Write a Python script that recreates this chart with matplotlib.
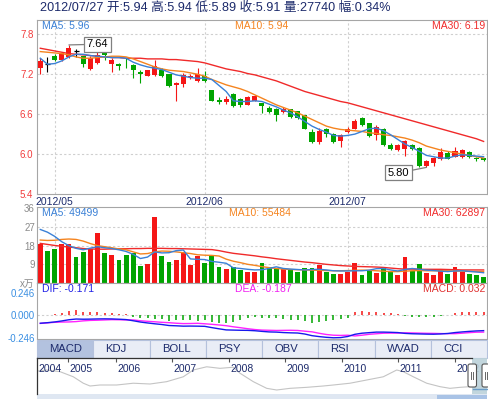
import numpy as np
import matplotlib
matplotlib.use("Agg")
import matplotlib.pyplot as plt
from matplotlib.patches import Rectangle, FancyBboxPatch

FONT = ['Liberation Sans', 'Noto Sans CJK SC', 'DejaVu Sans']
plt.rcParams['font.family'] = FONT

# ---------------- data ----------------
last_date = '2012/07/27'
amplitude_pct = 0.34

month_labels = ['2012/05', '2012/06', '2012/07']
month_index = [2, 23, 43]

opens = [7.29, 7.35, 7.48, 7.41, 7.46, 7.55, 7.47, 7.28, 7.37, 7.59,
         7.36, 7.35, 7.39, 7.34, 7.23, 7.18, 7.19, 7.27, 7.20, 7.04,
         7.05, 7.16, 7.10, 7.18, 6.97, 6.81, 6.78, 6.91, 6.82, 6.74,
         6.80, 6.76, 6.69, 6.68, 6.63, 6.67, 6.64, 6.58, 6.33, 6.18,
         6.37, 6.30, 6.20, 6.33, 6.38, 6.54, 6.46, 6.28, 6.37, 6.14,
         6.06, 6.08, 6.13, 6.09, 5.82, 5.86, 5.93, 6.02, 5.96, 5.96,
         6.03, 5.94, 5.94]
highs = [7.44, 7.46, 7.50, 7.53, 7.64, 7.58, 7.48, 7.48, 7.56, 7.60,
         7.44, 7.37, 7.44, 7.36, 7.26, 7.27, 7.42, 7.29, 7.21, 7.09,
         7.22, 7.21, 7.29, 7.25, 6.97, 6.86, 6.87, 6.92, 6.84, 6.87,
         6.89, 6.77, 6.72, 6.69, 6.71, 6.68, 6.65, 6.59, 6.38, 6.39,
         6.39, 6.32, 6.30, 6.40, 6.52, 6.55, 6.47, 6.43, 6.39, 6.16,
         6.15, 6.21, 6.15, 6.10, 5.91, 5.95, 6.09, 6.05, 6.10, 6.08,
         6.05, 5.95, 5.94]
lows = [7.20, 7.24, 7.40, 7.40, 7.45, 7.46, 7.31, 7.27, 7.36, 7.42,
        7.23, 7.26, 7.30, 7.14, 7.07, 7.17, 7.18, 7.16, 7.01, 6.80,
        7.01, 7.13, 7.09, 7.09, 6.80, 6.75, 6.75, 6.71, 6.71, 6.73,
        6.79, 6.62, 6.61, 6.49, 6.62, 6.54, 6.53, 6.37, 6.17, 6.15,
        6.26, 6.17, 6.11, 6.32, 6.37, 6.42, 6.25, 6.21, 6.12, 6.06,
        6.05, 5.97, 6.06, 5.81, 5.80, 5.82, 5.91, 5.92, 5.95, 5.94,
        5.94, 5.90, 5.89]
closes = [7.40, 7.35, 7.42, 7.52, 7.60, 7.55, 7.35, 7.45, 7.49, 7.49,
          7.42, 7.33, 7.38, 7.26, 7.20, 7.26, 7.32, 7.18, 7.03, 7.07,
          7.19, 7.17, 7.20, 7.10, 6.80, 6.78, 6.83, 6.72, 6.74, 6.86,
          6.88, 6.72, 6.63, 6.58, 6.67, 6.56, 6.54, 6.38, 6.18, 6.34,
          6.30, 6.18, 6.29, 6.38, 6.50, 6.43, 6.27, 6.41, 6.13, 6.07,
          6.14, 6.20, 6.07, 5.82, 5.90, 5.94, 6.03, 5.93, 6.05, 6.06,
          5.95, 5.92, 5.91]

ma5 = [7.44, 7.35, 7.36, 7.40, 7.46, 7.50, 7.50, 7.48, 7.47, 7.46,
       7.45, 7.45, 7.44, 7.38, 7.34, 7.31, 7.29, 7.27, 7.23, 7.19,
       7.17, 7.15, 7.14, 7.14, 7.12, 7.03, 6.94, 6.80, 6.79, 6.79,
       6.80, 6.79, 6.75, 6.71, 6.66, 6.62, 6.56, 6.49, 6.42, 6.37,
       6.33, 6.28, 6.27, 6.28, 6.30, 6.34, 6.38, 6.39, 6.35, 6.29,
       6.22, 6.15, 6.10, 6.04, 5.98, 5.96, 5.94, 5.94, 5.97, 5.99,
       5.98, 5.97, 5.96]
ma10 = [7.54, 7.53, 7.52, 7.51, 7.49, 7.46, 7.44, 7.44, 7.45, 7.46,
        7.47, 7.47, 7.46, 7.43, 7.39, 7.35, 7.31, 7.28, 7.26, 7.25,
        7.24, 7.22, 7.20, 7.17, 7.12, 7.08, 7.04, 7.01, 6.98, 6.94,
        6.89, 6.84, 6.79, 6.74, 6.70, 6.66, 6.62, 6.57, 6.52, 6.47,
        6.42, 6.39, 6.37, 6.36, 6.35, 6.34, 6.32, 6.31, 6.29, 6.28,
        6.26, 6.24, 6.21, 6.17, 6.12, 6.09, 6.06, 6.04, 6.02, 6.00,
        5.98, 5.96, 5.94]
ma30 = [7.59, 7.57, 7.55, 7.53, 7.51, 7.50, 7.49, 7.48, 7.47, 7.46,
        7.45, 7.45, 7.44, 7.44, 7.44, 7.43, 7.43, 7.43, 7.42, 7.42,
        7.41, 7.40, 7.39, 7.37, 7.34, 7.31, 7.28, 7.26, 7.24, 7.21,
        7.19, 7.16, 7.13, 7.10, 7.06, 7.02, 6.98, 6.94, 6.91, 6.88,
        6.85, 6.82, 6.79, 6.77, 6.74, 6.71, 6.68, 6.65, 6.62, 6.59,
        6.56, 6.53, 6.50, 6.47, 6.44, 6.41, 6.38, 6.35, 6.32, 6.29,
        6.26, 6.23, 6.19]

# volume, in units of 10,000 (x万)
volume = [18.75, 15.5, 16.3, 18.75, 18.75, 12.65, 14.9, 16.3, 24.0, 14.4,
          13.5, 11.05, 13.5, 14.4, 8.2, 9.1, 31.7, 13.0, 10.1, 11.05,
          14.9, 8.65, 13.1, 9.5, 13.1, 7.6, 6.7, 7.6, 6.25, 5.2,
          5.3, 9.6, 7.6, 6.8, 6.8, 6.8, 5.3, 7.4, 7.0, 8.65,
          5.3, 4.3, 4.3, 5.4, 9.8, 3.85, 5.75, 4.95, 7.4, 5.4,
          3.85, 12.5, 5.9, 9.1, 4.95, 3.85, 6.6, 4.3, 7.5, 5.4,
          4.3, 3.85, 2.774]
vol_ma5 = [25.8, 24.5, 22.5, 19.9, 18.0, 16.7, 16.0, 16.8, 17.5, 17.0,
           16.6, 16.0, 15.2, 13.8, 11.8, 12.5, 15.0, 14.5, 14.6, 15.6,
           15.9, 11.6, 11.4, 11.3, 10.4, 10.0, 9.5, 7.3, 7.0, 6.6,
           6.3, 6.4, 7.0, 7.8, 7.0, 6.7, 6.5, 6.3, 6.5, 6.6,
           6.3, 5.9, 5.8, 5.8, 5.9, 5.9, 6.2, 6.9, 7.0, 6.3,
           5.8, 6.5, 7.0, 6.6, 6.2, 6.0, 5.7, 5.5, 5.8, 5.9,
           5.6, 5.3, 4.9499]
vol_ma10 = [20.7, 20.5, 20.6, 21.0, 21.2, 21.0, 20.2, 19.0, 18.0, 17.5,
            17.0, 16.4, 16.0, 15.0, 14.0, 14.2, 15.0, 15.4, 15.3, 15.0,
            14.6, 14.2, 13.6, 13.4, 13.3, 13.0, 11.5, 10.5, 9.8, 9.0,
            8.5, 7.9, 7.4, 7.0, 6.7, 6.5, 6.4, 6.3, 6.2, 6.1,
            6.0, 5.9, 5.9, 6.0, 6.1, 6.2, 6.1, 5.9, 5.7, 5.5,
            5.5, 5.7, 5.9, 6.0, 5.9, 5.9, 5.9, 5.9, 5.8, 5.7,
            5.6, 5.5, 5.5484]
vol_ma30 = [19.1, 18.6, 18.1, 17.7, 17.3, 17.0, 16.6, 16.4, 16.3, 16.3,
            16.4, 16.5, 16.5, 16.6, 16.6, 16.7, 16.7, 16.7, 16.6, 16.6,
            16.5, 16.4, 16.3, 16.2, 16.1, 15.6, 14.9, 14.3, 13.9, 13.5,
            13.1, 12.6, 12.2, 11.7, 11.3, 10.9, 10.5, 10.1, 9.8, 9.4,
            9.0, 8.7, 8.4, 8.2, 8.0, 7.9, 7.8, 7.7, 7.5, 7.2,
            6.9, 6.7, 6.7, 6.6, 6.6, 6.6, 6.6, 6.5, 6.4, 6.3,
            6.3, 6.3, 6.2897]

dif = [-0.090, -0.084, -0.076, -0.065, -0.052, -0.044, -0.046, -0.045, -0.043, -0.042,
       -0.043, -0.046, -0.050, -0.063, -0.077, -0.087, -0.096, -0.104, -0.115, -0.118,
       -0.122, -0.121, -0.122, -0.124, -0.138, -0.151, -0.163, -0.165, -0.167, -0.168,
       -0.172, -0.179, -0.185, -0.187, -0.192, -0.195, -0.197, -0.208, -0.226, -0.236,
       -0.244, -0.249, -0.247, -0.235, -0.211, -0.199, -0.193, -0.187, -0.187, -0.189,
       -0.192, -0.201, -0.205, -0.207, -0.209, -0.210, -0.207, -0.202, -0.192, -0.185,
       -0.179, -0.174, -0.171]
dea = [-0.092, -0.086, -0.080, -0.077, -0.076, -0.072, -0.064, -0.059, -0.057, -0.054,
       -0.051, -0.052, -0.054, -0.054, -0.063, -0.069, -0.074, -0.080, -0.084, -0.090,
       -0.094, -0.093, -0.091, -0.096, -0.102, -0.109, -0.117, -0.129, -0.139, -0.150,
       -0.159, -0.165, -0.167, -0.169, -0.168, -0.167, -0.169, -0.177, -0.184, -0.200,
       -0.213, -0.221, -0.223, -0.221, -0.229, -0.221, -0.211, -0.205, -0.199, -0.198,
       -0.198, -0.195, -0.196, -0.198, -0.200, -0.201, -0.203, -0.204, -0.204, -0.199,
       -0.193, -0.188, -0.187]
macd = [0.002, 0.004, 0.010, 0.025, 0.047, 0.055, 0.036, 0.029, 0.029, 0.025,
        0.018, 0.011, 0.007, -0.018, -0.029, -0.036, -0.044, -0.047, -0.062, -0.055,
        -0.055, -0.055, -0.062, -0.055, -0.073, -0.084, -0.091, -0.073, -0.055, -0.036,
        -0.026, -0.029, -0.036, -0.036, -0.047, -0.055, -0.055, -0.062, -0.084, -0.073,
        -0.062, -0.055, -0.047, -0.029, 0.036, 0.044, 0.036, 0.036, 0.025, 0.018,
        0.011, -0.011, -0.018, -0.018, -0.018, -0.018, -0.007, 0.004, 0.025, 0.029,
        0.029, 0.029, 0.032]

price_ticks = [5.4, 6.0, 6.6, 7.2, 7.8]
vol_ticks = [0, 9, 18, 27, 36]
vol_tick_labels = ['x万', '9', '18', '27', '36']
macd_ticks = [-0.246, 0.0, 0.246]

tab_names = ['MACD', 'KDJ', 'BOLL', 'PSY', 'OBV', 'RSI', 'WVAD', 'CCI']

# long-range navigator (overview line 2004-2012)
nav_pos = [1.3, 9.7, 23, 36.3, 46.3, 53, 63, 79.7, 96.3, 113, 129.7, 146.3,
           156.3, 169.7, 183, 196.3, 203, 216.3, 229.7, 239.7, 253, 269.7,
           286.3, 296.3, 313, 329.7, 346.3, 359.7, 366.3, 376.3, 389.7, 403,
           413, 423, 433, 449]
nav_val = [9.9, 10.35, 9.6, 7.3, 4.4, 3.15, 3.6, 3.6, 4.4, 4.05, 5.1, 7.3,
           10.35, 11.8, 11.1, 11.6, 8.9, 5.1, 2.1, 1.35, 2.1, 2.55,
           3.15, 3.6, 4.4, 5.85, 7.3, 10.35, 9.6, 7.3, 4.4, 2.85,
           2.1, 2.55, 2.85, 2.7]
nav_years = ['2004', '2005', '2006', '2007', '2008', '2009', '2010', '2011', '2012']
nav_year_pos = [0, 30.7, 78.7, 134.7, 192, 248, 304.7, 361.3, 418]

# ---------------- styling ----------------
RED = '#f51616'
GREEN = '#00a400'
C_MA5 = '#3a80d6'
C_MA10 = '#f5841f'
C_MA30 = '#f02a2a'
NAVY = '#1c2a6b'
SPINE = '#a6a6a6'
GRID = '#cfcfcf'

W, H, DPI = 489, 399, 100
fig = plt.figure(figsize=(W / DPI, H / DPI), dpi=DPI)
fig.patch.set_facecolor('white')


def px_axes(x0, y0, x1, y1, **kw):
    return fig.add_axes([x0 / W, 1 - y1 / H, (x1 - x0) / W, (y1 - y0) / H], **kw)


def ftext(x, y, s, **kw):
    kw.setdefault('va', 'center')
    return fig.text(x / W, 1 - y / H, s, **kw)


X0, X1 = 37, 487.5
SPACING = 7.15
FIRST = 40.3
XLIM = ((X0 - FIRST) / SPACING, (X1 - FIRST) / SPACING)

n = len(closes)
idx = np.arange(n)
o = np.array(opens); c = np.array(closes); hi = np.array(highs); lo = np.array(lows)
up = c > o
flat = c == o
cols = np.where(up, RED, GREEN).astype(object)
cols[flat] = 'black'
vcols = np.where(up, RED, GREEN)


def style(ax):
    for s in ax.spines.values():
        s.set_color(SPINE)
        s.set_linewidth(0.8)
    ax.set_xlim(*XLIM)
    ax.tick_params(length=0)


# ---------------- price panel ----------------
ax_p = px_axes(X0, 20, X1, 194)
style(ax_p)
ax_p.set_ylim(5.4045, 8.0145)
ax_p.set_yticks(price_ticks)
ax_p.set_yticklabels([f'{t:.1f}' for t in price_ticks], color='#f23c3c', fontsize=7)
ax_p.tick_params(axis='y', pad=2.6)
ax_p.set_xticks(month_index)
ax_p.set_xticklabels(month_labels, color=NAVY, fontsize=7.5)
ax_p.tick_params(axis='x', pad=2.0)
for t in price_ticks[1:]:
    ax_p.axhline(t, color=GRID, lw=0.8, ls=(0, (2, 2)), zorder=0)
for m in month_index:
    ax_p.axvline(m, color=GRID, lw=0.8, ls=(0, (2, 2)), zorder=0)

ax_p.vlines(idx, lo, hi, colors=list(cols), lw=0.8, zorder=2)
body_lo = np.minimum(o, c)
body_h = np.abs(c - o)
ax_p.bar(idx, body_h, bottom=body_lo, width=0.7, color=list(cols), lw=0, zorder=3)
ax_p.hlines(c[flat], idx[flat] - 0.35, idx[flat] + 0.35, colors='black', lw=0.9, zorder=3)

ax_p.plot(idx, ma30, color=C_MA30, lw=1.0, zorder=4)
ax_p.plot(idx, ma10, color=C_MA10, lw=1.0, zorder=4)
ax_p.plot(idx, ma5, color=C_MA5, lw=1.0, zorder=4)

imax = int(np.argmax(hi)); imin = int(np.argmin(lo))
box = dict(boxstyle='square,pad=0.22', fc='white', ec='#808080', lw=0.9)
ax_p.annotate(f'{hi[imax]:.2f}', xy=(imax, hi[imax]), xytext=(20.5, 0.5),
              textcoords='offset points', ha='center', va='center', fontsize=8,
              color='black', bbox=box, zorder=6,
              arrowprops=dict(arrowstyle='-', color='#808080', lw=0.9, shrinkA=0, shrinkB=0))
ax_p.annotate(f'{lo[imin]:.2f}', xy=(imin, lo[imin]), xytext=(-20, -4),
              textcoords='offset points', ha='center', va='center', fontsize=8,
              color='black', bbox=box, zorder=6,
              arrowprops=dict(arrowstyle='-', color='#808080', lw=0.9, shrinkA=0, shrinkB=0))

ftext(42, 26, f'MA5: {ma5[-1]:.2f}', color=C_MA5, fontsize=7.5)
ftext(235, 26, f'MA10: {ma10[-1]:.2f}', color=C_MA10, fontsize=7.5)
ftext(485, 26, f'MA30: {ma30[-1]:.2f}', color=C_MA30, fontsize=7.5, ha='right')

# title
ftext(40, 7.5, f'{last_date} 开:{o[-1]:.2f} 高:{hi[-1]:.2f} 低:{lo[-1]:.2f} '
      f'收:{c[-1]:.2f} 量:{int(round(volume[-1] * 10000))} 幅:{amplitude_pct:.2f}%',
      color=NAVY, fontsize=9.1)

# ---------------- volume panel ----------------
ax_v = px_axes(X0, 207, X1, 283)
style(ax_v)
ax_v.set_ylim(0, 36.63)
ax_v.set_yticks(vol_ticks)
ax_v.set_yticklabels(vol_tick_labels, color='#8a8a8a', fontsize=7)
ax_v.tick_params(axis='y', pad=1.5)
ax_v.set_xticks([])
for t in vol_ticks[1:4]:
    ax_v.axhline(t, color=GRID, lw=0.8, ls=(0, (2, 2)), zorder=0)
for m in month_index:
    ax_v.axvline(m, color=GRID, lw=0.8, ls=(0, (2, 2)), zorder=0)
ax_v.bar(idx, volume, width=0.68, color=list(vcols), lw=0, zorder=2)
ax_v.plot(idx, vol_ma30, color=C_MA30, lw=1.0, zorder=3)
ax_v.plot(idx, vol_ma10, color=C_MA10, lw=1.0, zorder=3)
ax_v.plot(idx, vol_ma5, color=C_MA5, lw=1.0, zorder=3)
ftext(42, 213.5, f'MA5: {int(round(vol_ma5[-1] * 10000))}', color=C_MA5, fontsize=7.5)
ftext(229, 213.5, f'MA10: {int(round(vol_ma10[-1] * 10000))}', color=C_MA10, fontsize=7.5)
ftext(485, 213.5, f'MA30: {int(round(vol_ma30[-1] * 10000))}', color=C_MA30, fontsize=7.5, ha='right')

# ---------------- MACD panel ----------------
ax_m = px_axes(X0, 283, X1, 339)
style(ax_m)
ax_m.set_ylim(-0.2624, 0.35)
ax_m.set_yticks(macd_ticks)
ax_m.set_yticklabels([f'{t:.3f}' for t in macd_ticks], color='#3a8fe2', fontsize=7)
ax_m.tick_params(axis='y', pad=1.5)
ax_m.set_xticks([])
ax_m.axhline(0, color=GRID, lw=0.8, ls=(0, (2, 2)), zorder=0)
mc = np.where(np.array(macd) >= 0, RED, GREEN)
ax_m.vlines(idx, 0, macd, colors=list(mc), lw=1.1, zorder=2)
ax_m.plot(idx, dea, color='#ff22ff', lw=1.0, zorder=3)
ax_m.plot(idx, dif, color='#1818ee', lw=1.0, zorder=3)
ftext(42, 289.5, f'DIF: {dif[-1]:.3f}', color='#2020e6', fontsize=7.5)
ftext(235, 289.5, f'DEA: {dea[-1]:.3f}', color='#f020f0', fontsize=7.5)
ftext(485, 289.5, f'MACD: {macd[-1]:.3f}', color='#e03030', fontsize=7.5, ha='right')

# ---------------- navigator ----------------
ax_n = px_axes(X0, 358, X1, 394)
ax_n.set_xlim(0, X1 - X0)
ax_n.set_ylim(-0.45, 15.75)
ax_n.axis('off')
ax_n.plot(nav_pos, nav_val, color='#c4c4c4', lw=0.8)
ax_n.vlines(nav_year_pos[1:], 13.95, 15.75, colors='#555555', lw=0.8)
for pos, lab in zip(nav_year_pos, nav_years):
    ax_n.text(pos + 1.5, 10.8, lab, color=NAVY, fontsize=7.5, ha='left', va='center')

# ---------------- UI overlay (tabs, frames, handles) ----------------
ui = fig.add_axes([0, 0, 1, 1], zorder=10)
ui.set_xlim(0, W); ui.set_ylim(H, 0); ui.axis('off')
tab_w = (487 - X0) / len(tab_names)
for i, name in enumerate(tab_names):
    left = X0 + i * tab_w
    ui.add_patch(Rectangle((left, 339.5), tab_w, 18.5,
                           fc='#b3c2df' if i == 0 else '#e9edf6',
                           ec='#b4c1dc', lw=0.8))
    ui.text(left + 12.3, 349, name, color=NAVY, fontsize=8.1, ha='left', va='center')
# navigator frame
ui.plot([X0, 472], [358.3, 358.3], color='#333333', lw=0.9)
ui.plot([X0, X0], [358.3, 394], color='#333333', lw=0.9)
ui.add_patch(Rectangle((X0, 394), 450, 5, fc='#dfe7f2', ec='none'))
ui.add_patch(Rectangle((437, 394.5), 50, 4.5, fc='#a9c3e6', ec='none'))
ui.add_patch(Rectangle((472, 358.3), 15, 35.7, fc='#bcd2da', ec='none', alpha=0.9))
ui.plot([473, 487], [388.5, 388.5], color='#6a9cc8', lw=1.0)
for hx in (468, 482):
    ui.add_patch(FancyBboxPatch((hx, 364), 8.5, 23, boxstyle='round,pad=0,rounding_size=2',
                                fc='white', ec='#555555', lw=0.8))
    ui.plot([hx + 3.2, hx + 3.2], [372, 379], color='#666666', lw=0.7)
    ui.plot([hx + 5.3, hx + 5.3], [372, 379], color='#666666', lw=0.7)

fig.savefig('out.png', dpi=DPI, facecolor='white')
